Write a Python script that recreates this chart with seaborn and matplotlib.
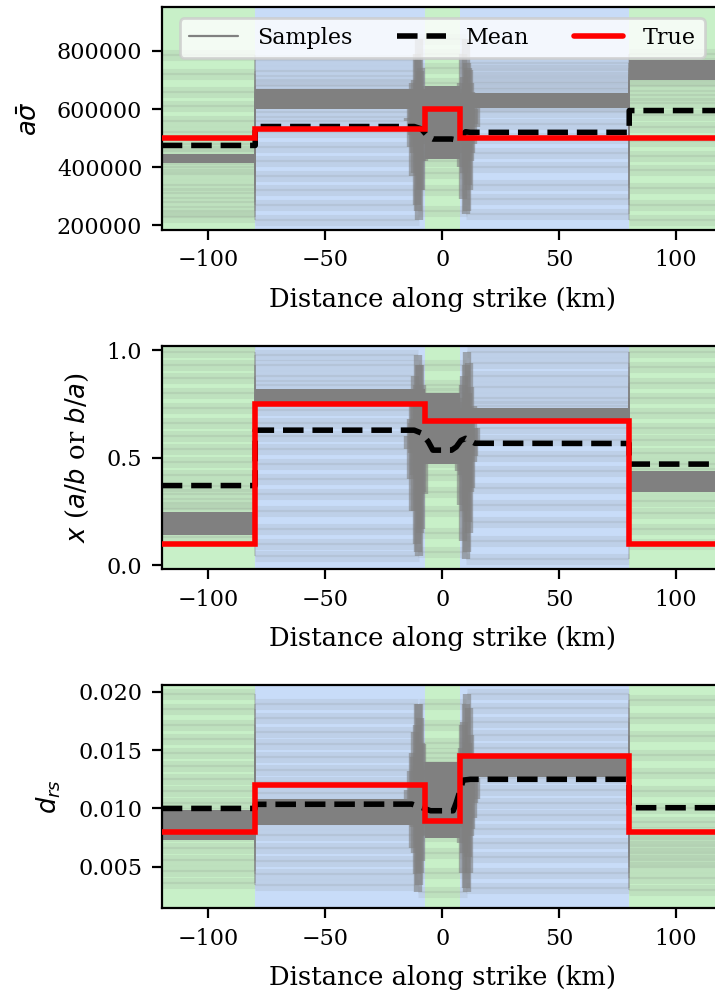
import numpy as np
import pandas as pd
import matplotlib
matplotlib.use("Agg")
import matplotlib.pyplot as plt
import seaborn as sns
from matplotlib.lines import Line2D

# ---------------- data ----------------
# zone boundaries along strike (km) and the type of each zone
zone_edges = [-120, -80, -7.5, 7.5, 80, 120]
zone_kind = ["green", "blue", "green", "blue", "green"]

# inner boundary position of each posterior sample (km)
sample_left_edge = [-10, -11, -9, -12.5, -8, -13.5, -7, -14.5,
                    -6.5, -13, -7.5, -12, -8.5, -11.5, -9.5, -10.5]
sample_right_edge = [10, 9, 11, 8, 12.5, 7, 13.5, 6.5,
                     14.5, 7.5, 13, 8.5, 12, 9.5, 11.5, 10.5]

# ---- panel 1: a*sigma ----
asig_true = [500000, 530000, 600000, 500000, 500000]
asig_mean_x = [-120, -80, -80, -12, -9, -6, -4, 4, 6, 8, 10, 12, 80, 80, 120]
asig_mean_y = [475000, 475000, 540000, 540000, 532000, 505000, 497000, 497000,
               494000, 505000, 522000, 520000, 520000, 595000, 595000]
asig_core_lo = [413000, 602000, 430000, 605000, 699000]
asig_core_hi = [445000, 670000, 680000, 655000, 768000]
asig_seg0 = [785000, 720000, 660000, 610000, 560000, 520000, 480000, 455000,
             430000, 400000, 375000, 340000, 310000, 280000, 250000, 230000]
asig_seg1 = [220000, 270000, 320000, 370000, 420000, 470000, 520000, 560000,
             590000, 625000, 640000, 655000, 680000, 700000, 730000, 770000]
asig_seg2 = [840000, 790000, 740000, 690000, 660000, 630000, 600000, 570000,
             540000, 510000, 480000, 450000, 420000, 380000, 320000, 250000]
asig_seg3 = [240000, 290000, 340000, 400000, 450000, 500000, 550000, 590000,
             610000, 630000, 650000, 670000, 690000, 710000, 735000, 760000]
asig_seg4 = [790000, 760000, 740000, 720000, 700000, 680000, 650000, 620000,
             580000, 540000, 490000, 440000, 390000, 330000, 270000, 220000]

# ---- panel 2: x (a/b or b/a) ----
x_true = [0.10, 0.75, 0.67, 0.67, 0.10]
x_mean_x = [-120, -80, -80, -12, -9, -6, -4, 4, 6, 8, 10, 14, 80, 80, 120]
x_mean_y = [0.37, 0.37, 0.628, 0.628, 0.615, 0.575, 0.535, 0.535,
            0.55, 0.58, 0.59, 0.567, 0.566, 0.47, 0.47]
x_core_lo = [0.14, 0.76, 0.47, 0.68, 0.34]
x_core_hi = [0.248, 0.82, 0.80, 0.73, 0.44]
x_seg0 = [0.99, 0.93, 0.87, 0.80, 0.73, 0.66, 0.60, 0.54,
          0.48, 0.42, 0.37, 0.33, 0.29, 0.26, 0.22, 0.13]
x_seg1 = [0.04, 0.10, 0.17, 0.25, 0.33, 0.40, 0.47, 0.54,
          0.60, 0.66, 0.72, 0.79, 0.84, 0.88, 0.93, 0.98]
x_seg2 = [0.93, 0.84, 0.80, 0.76, 0.72, 0.68, 0.64, 0.60,
          0.56, 0.52, 0.48, 0.42, 0.34, 0.25, 0.15, 0.06]
x_seg3 = [0.03, 0.11, 0.20, 0.28, 0.36, 0.44, 0.51, 0.58,
          0.64, 0.70, 0.74, 0.78, 0.83, 0.88, 0.94, 0.99]
x_seg4 = [0.99, 0.92, 0.85, 0.78, 0.71, 0.64, 0.58, 0.52,
          0.47, 0.43, 0.39, 0.35, 0.30, 0.24, 0.17, 0.10]

# ---- panel 3: d_rs ----
drs_true = [0.0080, 0.0120, 0.0089, 0.0145, 0.0080]
drs_mean_x = [-120, -80, -80, -13, -9, -5, 4.7, 6, 9, 12, 80, 80, 120]
drs_mean_y = [0.0100, 0.0100, 0.01035, 0.01037, 0.0101, 0.0098, 0.0098,
              0.0105, 0.01243, 0.0125, 0.0125, 0.01006, 0.01006]
drs_core_lo = [0.0073, 0.0086, 0.0075, 0.0127, np.nan]
drs_core_hi = [0.0099, 0.0108, 0.0140, 0.0144, np.nan]
drs_seg0 = [0.0198, 0.0185, 0.0172, 0.0160, 0.0148, 0.0136, 0.0125, 0.0115,
            0.0105, 0.0096, 0.0086, 0.0076, 0.0066, 0.0056, 0.0046, 0.0036]
drs_seg1 = [0.0034, 0.0044, 0.0055, 0.0066, 0.0077, 0.0087, 0.0096, 0.0104,
            0.0113, 0.0123, 0.0133, 0.0144, 0.0155, 0.0166, 0.0178, 0.0190]
drs_seg2 = [0.0190, 0.0172, 0.0156, 0.0148, 0.0140, 0.0132, 0.0124, 0.0116,
            0.0108, 0.0100, 0.0092, 0.0084, 0.0076, 0.0062, 0.0045, 0.0028]
drs_seg3 = [0.0032, 0.0045, 0.0058, 0.0070, 0.0082, 0.0094, 0.0105, 0.0116,
            0.0126, 0.0134, 0.0142, 0.0152, 0.0163, 0.0174, 0.0186, 0.0198]
drs_seg4 = [0.0193, 0.0178, 0.0162, 0.0146, 0.0130, 0.0115, 0.0100, 0.0088,
            0.0080, 0.0074, 0.0068, 0.0062, 0.0056, 0.0050, 0.0040, 0.0030]

x_ticks = [-100, -50, 0, 50, 100]
legend_labels = ["Samples", "Mean", "True"]
xlabel = "Distance along strike (km)"

# ---------------- style ----------------
sns.set_style("ticks")
plt.rcParams.update({
    "font.family": ["DejaVu Serif"],
    "font.size": 8,
    "axes.labelsize": 9.3,
    "axes.labelpad": 5.5,
    "xtick.labelsize": 8,
    "ytick.labelsize": 8,
    "legend.fontsize": 8,
    "axes.edgecolor": "black",
    "axes.linewidth": 0.8,
    "xtick.color": "black",
    "ytick.color": "black",
    "text.color": "black",
    "axes.labelcolor": "black",
    "xtick.major.size": 3.5,
    "ytick.major.size": 3.5,
    "xtick.major.width": 0.8,
    "ytick.major.width": 0.8,
    "xtick.direction": "out",
    "ytick.direction": "out",
    "axes.facecolor": "white",
})

zone_colors = {"green": "#c8f0c8", "blue": "#c8dcf8"}
sample_color = "#808080"

fig = plt.figure(figsize=(3.575, 4.96), dpi=200)
ax_left, ax_w, ax_h = 0.2262, 0.7846, 0.2248
ax1 = fig.add_axes([ax_left, 0.7681, ax_w, ax_h])
ax2 = fig.add_axes([ax_left, 0.4261, ax_w, ax_h])
ax3 = fig.add_axes([ax_left, 0.0844, ax_w, ax_h])


def step_xy(values):
    xs, ys = [], []
    for k, v in enumerate(values):
        xs += [zone_edges[k], zone_edges[k + 1]]
        ys += [v, v]
    return xs, ys


def draw_panel(ax, true_vals, mean_x, mean_y, core_lo, core_hi, segs,
               ylim, yticks, ylabel):
    # zone backgrounds
    for k, kind in enumerate(zone_kind):
        ax.axvspan(zone_edges[k], zone_edges[k + 1], color=zone_colors[kind],
                   lw=0, zorder=0)
    # posterior samples
    n = len(sample_left_edge)
    for i in range(n):
        xs = [zone_edges[0], zone_edges[1], sample_left_edge[i],
              sample_right_edge[i], zone_edges[4], zone_edges[5]]
        lv = [s[i] for s in segs]
        ax.hlines(lv, xs[:-1], xs[1:], color=sample_color, lw=4.0,
                  alpha=0.13, zorder=1)
        ax.hlines(lv, xs[:-1], xs[1:], color=sample_color, lw=0.8,
                  alpha=0.15, zorder=1)
        ax.vlines([xs[1], xs[4]], [lv[0], lv[3]], [lv[1], lv[4]],
                  color=sample_color, lw=0.6, alpha=0.35, zorder=1)
        ax.vlines([xs[2], xs[3]], [lv[1], lv[2]], [lv[2], lv[3]],
                  color=sample_color, lw=3.0, alpha=0.6, zorder=1)
    # dense core of the samples
    for k in range(5):
        if not np.isnan(core_lo[k]):
            ax.fill_between([zone_edges[k], zone_edges[k + 1]], core_lo[k],
                            core_hi[k], color=sample_color, lw=0, zorder=2)
    # mean
    dm = pd.DataFrame({"x": mean_x, "y": mean_y})
    sns.lineplot(data=dm, x="x", y="y", estimator=None, sort=False, ax=ax,
                 color="black", lw=2, linestyle="--", zorder=4)
    # true
    tx, ty = step_xy(true_vals)
    dt = pd.DataFrame({"x": tx, "y": ty})
    sns.lineplot(data=dt, x="x", y="y", estimator=None, sort=False, ax=ax,
                 color="red", lw=2, zorder=5, solid_joinstyle="miter")
    ax.set_xlim(-120, 120)
    ax.set_ylim(*ylim)
    ax.set_xticks(x_ticks)
    ax.set_yticks(yticks)
    ax.set_xlabel(xlabel)
    ax.set_ylabel(ylabel)


draw_panel(ax1, asig_true, asig_mean_x, asig_mean_y, asig_core_lo, asig_core_hi,
           [asig_seg0, asig_seg1, asig_seg2, asig_seg3, asig_seg4],
           (183800, 951200), [200000, 400000, 600000, 800000], r"$a\bar{\sigma}$")
draw_panel(ax2, x_true, x_mean_x, x_mean_y, x_core_lo, x_core_hi,
           [x_seg0, x_seg1, x_seg2, x_seg3, x_seg4],
           (-0.020, 1.0186), [0.0, 0.5, 1.0], r"$x$ ($a/b$ or $b/a$)")
draw_panel(ax3, drs_true, drs_mean_x, drs_mean_y, drs_core_lo, drs_core_hi,
           [drs_seg0, drs_seg1, drs_seg2, drs_seg3, drs_seg4],
           (0.00143, 0.02057), [0.005, 0.010, 0.015, 0.020], r"$d_{rs}$")
ax2.set_yticklabels(["0.0", "0.5", "1.0"])
ax3.set_yticklabels(["0.005", "0.010", "0.015", "0.020"])

handles = [Line2D([], [], color=sample_color, lw=0.8),
           Line2D([], [], color="black", lw=2, linestyle="--"),
           Line2D([], [], color="red", lw=2)]
ax1.legend(handles, legend_labels, ncol=3, loc="upper right",
           bbox_to_anchor=(0.988, 1.0), handlelength=2.2, handletextpad=0.9,
           columnspacing=2.0)

fig.savefig("out.png", dpi=200)
